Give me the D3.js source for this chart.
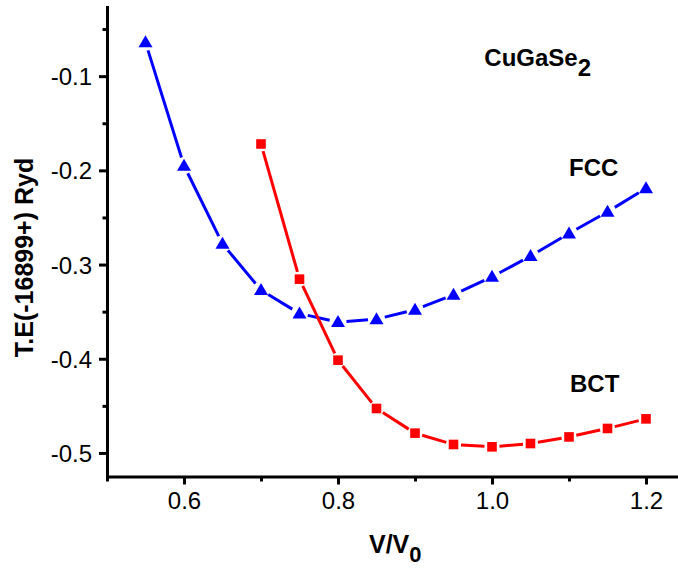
<!DOCTYPE html>
<html>
<head>
<meta charset="utf-8">
<script src="https://cdn.jsdelivr.net/npm/d3@7"></script>
<style>
  html, body { margin: 0; padding: 0; background: #fff; }
  svg { display: block; font-family: "Liberation Sans", Arial, sans-serif; }
</style>
</head>
<body>
<svg id="chart" width="678" height="571"></svg>
<script>
// ---- data ----
const volumeRatio = [0.55, 0.60, 0.65, 0.70, 0.75, 0.80, 0.85, 0.90, 0.95, 1.00, 1.05, 1.10, 1.15, 1.20];
const fccEnergy   = [-0.064, -0.195, -0.278, -0.327, -0.352, -0.361, -0.358, -0.348, -0.332, -0.313, -0.291, -0.267, -0.244, -0.219];
const bctVolume   = [0.70, 0.75, 0.80, 0.85, 0.90, 0.95, 1.00, 1.05, 1.10, 1.15, 1.20];
const bctEnergy   = [-0.172, -0.3155, -0.4015, -0.4528, -0.479, -0.491, -0.4935, -0.490, -0.483, -0.474, -0.4638];
const xTicks = [0.6, 0.8, 1.0, 1.2];
const xMinorTicks = [0.5, 0.7, 0.9, 1.1];
const yTicks = [-0.1, -0.2, -0.3, -0.4, -0.5];
const yMinorTicks = [-0.05, -0.15, -0.25, -0.35, -0.45];

const svg = d3.select("#chart");
const x = d3.scaleLinear().domain([0.5, 1.25]).range([107, 684.5]);
const y = d3.scaleLinear().domain([-0.525, -0.025]).range([476.5, 5.5]);

// ---- series ----
function drawSeries(xs, ys, color, gap, markerPath) {
  const pts = xs.map((v, i) => [x(v), y(ys[i])]);
  const g = svg.append("g");
  for (let i = 0; i < pts.length - 1; i++) {
    const [x1, y1] = pts[i], [x2, y2] = pts[i + 1];
    const dx = x2 - x1, dy = y2 - y1, L = Math.hypot(dx, dy);
    if (L <= 2 * gap) continue;
    const ux = dx / L, uy = dy / L;
    g.append("line")
      .attr("x1", x1 + ux * gap).attr("y1", y1 + uy * gap)
      .attr("x2", x2 - ux * gap).attr("y2", y2 - uy * gap)
      .attr("stroke", color).attr("stroke-width", 3)
      .attr("stroke-linecap", "butt");
  }
  g.selectAll("path.m").data(pts).join("path")
    .attr("class", "m")
    .attr("d", markerPath)
    .attr("transform", d => `translate(${d[0]},${d[1]})`)
    .attr("fill", color);
}

const triangle = "M0,-7L7,5L-7,5Z";
const square = "M-4.8,-4.8H4.8V4.8H-4.8Z";
drawSeries(volumeRatio, fccEnergy, "#0000ff", 8.5, triangle);
drawSeries(bctVolume, bctEnergy, "#ff0000", 7.5, square);

// ---- axes ----
const axisColor = "#000";
const xAxis = svg.append("g").attr("transform", `translate(0,${y(-0.525)})`);
xAxis.call(d3.axisBottom(x).tickValues(xTicks).tickFormat(d3.format(".1f")).tickSize(8).tickSizeOuter(0));
const xMinor = svg.append("g").attr("transform", `translate(0,${y(-0.525)})`);
xMinor.call(d3.axisBottom(x).tickValues(xMinorTicks).tickFormat("").tickSize(5).tickSizeOuter(0));
xMinor.select(".domain").remove();

const yAxis = svg.append("g").attr("transform", `translate(${x(0.5)},0)`);
yAxis.call(d3.axisLeft(y).tickValues(yTicks).tickFormat(d3.format(".1f")).tickSize(8).tickSizeOuter(0));
const yMinor = svg.append("g").attr("transform", `translate(${x(0.5)},0)`);
yMinor.call(d3.axisLeft(y).tickValues(yMinorTicks).tickFormat("").tickSize(4.5).tickSizeOuter(0));
yMinor.select(".domain").remove();

svg.selectAll(".domain").attr("stroke", axisColor).attr("stroke-width", 3);
svg.selectAll(".tick line").attr("stroke", axisColor).attr("stroke-width", 3);
svg.selectAll(".tick text")
  .attr("fill", "#000")
  .style("font-family", "'Liberation Sans', Arial, sans-serif")
  .style("font-size", "24px");
xAxis.selectAll(".tick text").attr("dy", "0.95em").attr("y", 10);
yAxis.selectAll(".tick text").attr("x", -15).attr("dy", "0.36em")
  .text(d => d3.format(".1f")(d).replace("−", "-"));

// ---- axis titles ----
svg.append("text")
  .attr("transform", `translate(33,${257.5}) rotate(-90)`)
  .attr("text-anchor", "middle")
  .style("font-size", "25px").style("font-weight", "bold")
  .text("T.E(-16899+) Ryd");

const xTitle = svg.append("text")
  .attr("x", 369).attr("y", 553)
  .style("font-size", "25px").style("font-weight", "bold");
xTitle.append("tspan").text("V/V");
xTitle.append("tspan").attr("dy", 9).style("font-size", "22px").text("0");

// ---- annotations ----
const compound = svg.append("text")
  .attr("x", x(0.99)).attr("y", y(-0.0895))
  .style("font-size", "24px").style("font-weight", "bold");
compound.append("tspan").text("CuGaSe");
compound.append("tspan").attr("dy", 10).text("2");

svg.append("text")
  .attr("x", x(1.1)).attr("y", y(-0.2055))
  .style("font-size", "24px").style("font-weight", "bold")
  .text("FCC");

svg.append("text")
  .attr("x", x(1.1013)).attr("y", y(-0.4355))
  .style("font-size", "24px").style("font-weight", "bold")
  .text("BCT");
</script>
</body>
</html>
